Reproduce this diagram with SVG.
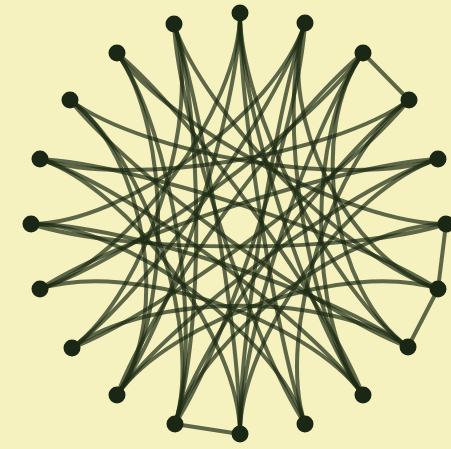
<svg xmlns="http://www.w3.org/2000/svg" width="451" height="449" viewBox="0 0 451 449">
<style>
.bg{fill:#f5f2c0}
.e{fill:none;stroke:#1c2b14;stroke-width:4;stroke-opacity:0.7;stroke-linecap:round}
.n{fill:#1a2714}
</style>
<rect class="bg" x="0" y="0" width="451" height="449"/>
<g id="connectors">
<path class="e" d="M240,13 C239.6,107.9 275.3,334 305,424"/>
<path class="e" d="M240,13 C239.6,107.9 171.9,318.1 117,395"/>
<path class="e" d="M240,13 C239.6,107.9 129.6,259.8 40,289"/>
<path class="e" d="M240,13 C239.6,107.9 307.2,318.1 363,395"/>
<path class="e" d="M305,23 C299.1,121.3 227.6,341.8 175,424"/>
<path class="e" d="M305,23 C275.3,113.5 147.2,292.2 72,348"/>
<path class="e" d="M305,23 C275.3,113.5 124.6,224 31,224"/>
<path class="e" d="M305,23 C275.3,113.5 348.5,259.8 438,289"/>
<path class="e" d="M363,53 C286.9,115.5 151.6,303.6 117,395"/>
<path class="e" d="M363,53 C307.2,130 129.6,259.8 40,289"/>
<path class="e" d="M363,53 C307.2,130 307.2,318.1 363,395"/>
<path class="e" d="M363,53 C307.2,130 332,291.7 408,347"/>
<path class="e" d="M409,100 C332.5,155.8 275.3,334 305,424"/>
<path class="e" d="M409,100 C347.3,175.9 162,312.3 72,348"/>
<path class="e" d="M409,100 C332.5,155.8 129.6,188.3 40,159"/>
<path class="e" d="M438,159 C348.5,188.3 239.6,339.5 240,434"/>
<path class="e" d="M438,159 C340.7,164.5 121.8,236 40,289"/>
<path class="e" d="M438,159 C348.5,188.3 146.1,155.8 70,100"/>
<path class="e" d="M446,224 C352.9,224 203.8,334 175,424"/>
<path class="e" d="M446,224 C352.9,254 124.6,254 31,224"/>
<path class="e" d="M446,224 C352.9,224 171.9,130 117,53"/>
<path class="e" d="M438,289 C348.5,259.8 171.9,318.1 117,395"/>
<path class="e" d="M438,289 C356.3,236 137.4,164.5 40,159"/>
<path class="e" d="M438,289 C348.5,259.8 203.3,114 174,24"/>
<path class="e" d="M408,347 C332,291.7 147.2,292.2 72,348"/>
<path class="e" d="M408,347 C317.2,311.9 131.3,176 70,100"/>
<path class="e" d="M408,347 C332,291.7 239.6,107.9 240,13"/>
<path class="e" d="M363,395 C307.2,318.1 129.6,259.8 40,289"/>
<path class="e" d="M363,395 C327.5,303.6 192.2,115.5 117,53"/>
<path class="e" d="M363,395 C307.2,318.1 275.3,113.5 305,23"/>
<path class="e" d="M363,395 C307.2,318.1 129.6,188.3 40,159"/>
<path class="e" d="M305,424 C275.3,334 124.6,224 31,224"/>
<path class="e" d="M305,424 C251.5,341.8 179.5,121.8 174,24"/>
<path class="e" d="M240,434 C239.6,339.5 129.6,188.3 40,159"/>
<path class="e" d="M240,434 C239.6,339.5 275.3,113.5 305,23"/>
<path class="e" d="M240,434 C239.6,339.5 203.3,114 174,24"/>
<path class="e" d="M240,434 C239.6,339.5 307.2,130 363,53"/>
<path class="e" d="M175,424 C203.8,334 146.1,155.8 70,100"/>
<path class="e" d="M175,424 C203.8,334 203.3,114 174,24"/>
<path class="e" d="M175,424 C203.8,334 171.9,130 117,53"/>
<path class="e" d="M175,424 C203.8,334 332.5,155.8 409,100"/>
<path class="e" d="M117,395 C171.9,318.1 171.9,130 117,53"/>
<path class="e" d="M117,395 C171.9,318.1 146.1,155.8 70,100"/>
<path class="e" d="M117,395 C171.9,318.1 348.5,188.3 438,159"/>
<path class="e" d="M72,348 C147.2,292.2 203.3,114 174,24"/>
<path class="e" d="M31,224 C124.6,224 332,291.7 408,347"/>
<path class="e" d="M363,53 L409,100"/>
<path class="e" d="M446,224 L438,289"/>
<path class="e" d="M438,289 L408,347"/>
<path class="e" d="M175,424 L240,434"/>
</g>
<g id="nodes">
<circle id="n0" class="n" cx="240" cy="13" r="8.5"/>
<circle id="n1" class="n" cx="305" cy="23" r="8.5"/>
<circle id="n2" class="n" cx="363" cy="53" r="8.5"/>
<circle id="n3" class="n" cx="409" cy="100" r="8.5"/>
<circle id="n4" class="n" cx="438" cy="159" r="8.5"/>
<circle id="n5" class="n" cx="446" cy="224" r="8.5"/>
<circle id="n6" class="n" cx="438" cy="289" r="8.5"/>
<circle id="n7" class="n" cx="408" cy="347" r="8.5"/>
<circle id="n8" class="n" cx="363" cy="395" r="8.5"/>
<circle id="n9" class="n" cx="305" cy="424" r="8.5"/>
<circle id="n10" class="n" cx="240" cy="434" r="8.5"/>
<circle id="n11" class="n" cx="175" cy="424" r="8.5"/>
<circle id="n12" class="n" cx="117" cy="395" r="8.5"/>
<circle id="n13" class="n" cx="72" cy="348" r="8.5"/>
<circle id="n14" class="n" cx="40" cy="289" r="8.5"/>
<circle id="n15" class="n" cx="31" cy="224" r="8.5"/>
<circle id="n16" class="n" cx="40" cy="159" r="8.5"/>
<circle id="n17" class="n" cx="70" cy="100" r="8.5"/>
<circle id="n18" class="n" cx="117" cy="53" r="8.5"/>
<circle id="n19" class="n" cx="174" cy="24" r="8.5"/>
</g>
</svg>
